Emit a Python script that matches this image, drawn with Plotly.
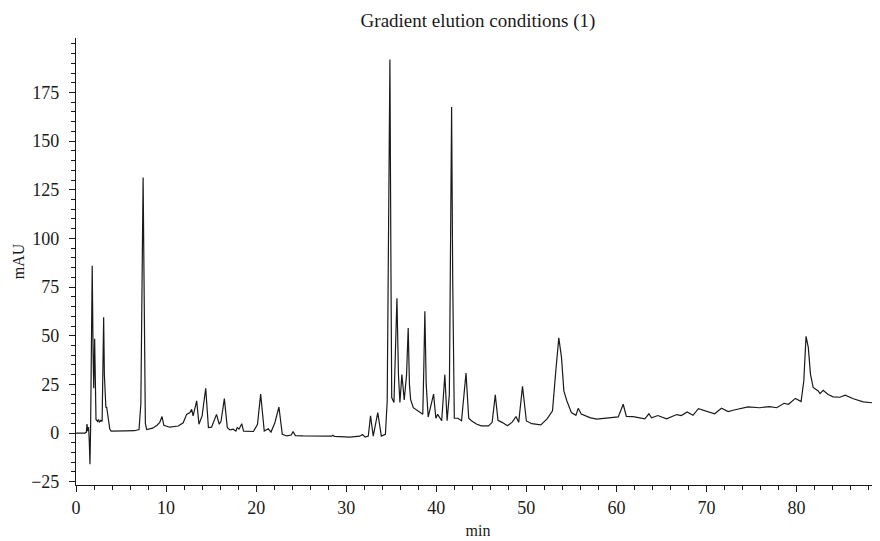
import plotly.graph_objects as go

time_min = [
    0.0, 1.0, 1.15, 1.22, 1.3, 1.4, 1.48, 1.55, 1.62, 1.7, 1.8, 1.9, 1.97, 2.07, 2.15, 2.22,
    2.4, 2.5, 2.6, 2.75, 2.9, 3.0, 3.07, 3.15, 3.25, 3.32, 3.4, 3.5, 3.6, 3.75, 3.9,
    4.5, 5.5, 6.5, 7.0, 7.2, 7.35, 7.45, 7.55, 7.7, 7.85, 8.5, 9.0, 9.3, 9.55, 9.75,
    10.4, 11.35, 11.9, 12.28, 12.65, 12.84, 13.0, 13.4, 13.65, 14.0, 14.4, 14.7, 15.05,
    15.6, 15.9, 16.1, 16.47, 16.8, 17.1, 17.45, 17.75, 17.9, 18.1, 18.4, 18.6, 19.7,
    20.15, 20.5, 20.9, 21.35, 21.65, 22.08, 22.53, 22.9, 23.4, 23.9, 24.1, 24.35, 25.2,
    27.1, 28.4, 28.5, 28.7, 30.4, 31.5, 31.8, 32.1, 32.45, 32.7, 33.0, 33.5, 33.9,
    34.35, 34.55, 34.72, 34.85, 34.97, 35.05, 35.3, 35.5, 35.63, 35.8, 35.96, 36.18,
    36.44, 36.7, 36.88, 37.02, 37.15, 37.45, 38.0, 38.5, 38.62, 38.73, 38.88, 39.1,
    39.7, 39.95, 40.15, 40.6, 40.95, 41.2, 41.45, 41.6, 41.7, 41.82, 42.0, 42.4, 42.8,
    43.3, 43.6, 43.9, 44.5, 45.0, 45.8, 46.2, 46.55, 46.85, 47.3, 47.9, 48.45, 48.85,
    49.15, 49.57, 50.0, 50.6, 51.6, 52.3, 52.9, 53.27, 53.6, 53.9, 54.16, 54.5, 55.0,
    55.5, 55.75, 56.1, 57.05, 57.8, 58.9, 60.2, 60.75, 61.1, 61.85, 63.15, 63.6, 63.9,
    64.6, 65.56, 66.7, 67.2, 67.85, 68.5, 69.1, 69.8, 70.9, 71.66, 72.4, 72.95, 73.5,
    74.6, 75.9, 77.0, 77.8, 78.6, 79.1, 79.87, 80.5, 80.8, 81.05, 81.3, 81.54, 81.84,
    82.4, 82.6, 82.95, 83.5, 84.05, 84.8, 85.4, 86.3, 87.4, 88.5, 89.05, 89.26,
]

absorbance_mau = [
    0, 0, 0.5, 4.6, 1, 3, -5, -16, 2, 30, 86, 40, 23, 48.5, 15, 7,
    6, 7, 5.5, 6.5, 6, 30, 59.5, 30, 15.5, 13, 13.5, 10, 8, 2, 1,
    0.9, 1.1, 1.2, 1.8, 15, 90, 131.3, 80, 5, 1.8, 2.5, 4, 5.5, 8.5, 4,
    3, 3.6, 5.3, 9.6, 10.5, 12.2, 8.8, 16.5, 4.5, 8.8, 23, 2.8, 3,
    9.6, 4.5, 6, 17.7, 2.8, 1.6, 2, 1, 2.8, 2, 4.8, 1, 0.8,
    4.5, 20, 1, 2.2, 0.5, 5.3, 13.4, -0.7, -1.5, -1, 0.8, -1.3, -1.5,
    -1.6, -1.6, -1.1, -1.7, -2.1, -1.6, -0.8, -2.1, -1.6, 8.8, -1.6, 10.5, -1.6,
    -0.7, 16.5, 120, 192, 80, 18.2, 15.7, 50, 69.3, 30, 15.7, 30,
    17, 30, 54, 25, 17.2, 13, 11.4, 9.6, 35, 62.6, 25, 8.2,
    20, 7.6, 9.6, 6.3, 30, 6.3, 20, 130, 167.6, 80, 7.6, 7.6, 6.3,
    30.8, 7.6, 6.3, 4.5, 3.7, 3.7, 5.5, 19.6, 6.5, 5.5, 3.7, 5.7, 8.5,
    5.5, 24, 6.2, 4.8, 4.2, 7.3, 11.4, 32, 48.9, 38.9, 21.7, 16.5, 10.5,
    9.1, 12.7, 9.8, 7.9, 7.2, 7.6, 8.3, 14.8, 8.6, 8.4, 7.3, 9.9, 7.8,
    9, 7.3, 9.5, 9, 10.8, 9.1, 12.5, 11.4, 9.9, 12.7, 11, 11.7, 12.2,
    13.4, 13, 13.6, 13, 15.3, 14.8, 17.8, 16.2, 26.8, 49.7, 44, 30.3, 23.4,
    21.6, 20.3, 22, 19.8, 18.6, 18.4, 19.5, 17.6, 16, 15.5, 15.8, 15,
]

x_ticks = [0, 10, 20, 30, 40, 50, 60, 70, 80]
y_ticks = [-25, 0, 25, 50, 75, 100, 125, 150, 175]
y_tick_text = ["\u221225", "0", "25", "50", "75", "100", "125", "150", "175"]

FONT = "Liberation Serif"

# The page body has an 8px default margin, so the figure is sized to fit the 880x541 window.
FIG_W, FIG_H = 872, 533

fig = go.Figure()
fig.add_trace(go.Scatter(
    x=time_min, y=absorbance_mau, mode="lines",
    line=dict(color="#1a1a1a", width=1.2),
    showlegend=False, hoverinfo="skip",
))

axis_common = dict(
    showgrid=False, zeroline=False, showline=True, linecolor="#1a1a1a", linewidth=1.2,
    ticks="outside", ticklen=6, tickwidth=1.1, tickcolor="#1a1a1a",
    tickfont=dict(family=FONT, size=18, color="#1a1a1a"),
    automargin=False,
)

fig.update_layout(
    width=FIG_W, height=FIG_H,
    margin=dict(l=68, r=0, t=30, b=56),
    paper_bgcolor="white", plot_bgcolor="white",
    font=dict(family=FONT, color="#1a1a1a"),
    title=dict(text="Gradient elution conditions (1)", x=0.5, xref="paper",
               y=1 - 12 / FIG_H, yref="container", yanchor="middle",
               font=dict(family=FONT, size=19, color="#1a1a1a")),
    xaxis=dict(range=[0, 89.26], tickvals=x_ticks,
               minor=dict(dtick=2, ticks="outside", ticklen=3.5, tickwidth=1, tickcolor="#1a1a1a"),
               title=dict(text="min", font=dict(family=FONT, size=16), standoff=8),
               **axis_common),
    yaxis=dict(range=[-26.7, 203], tickvals=y_ticks, ticktext=y_tick_text,
               ticklabelstandoff=6,
               minor=dict(dtick=5, ticks="outside", ticklen=3.5, tickwidth=1, tickcolor="#1a1a1a"),
               title=dict(text="mAU", font=dict(family=FONT, size=16), standoff=2),
               **axis_common),
)

fig.write_html("out.html")
